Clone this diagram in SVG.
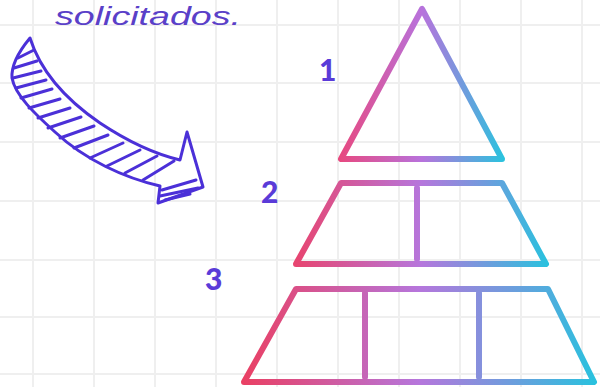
<svg xmlns="http://www.w3.org/2000/svg" width="600" height="387" viewBox="0 0 600 387">
<defs>
<style>
.grid line{stroke:#efefef;stroke-width:2}
.lbl{font-family:"Lato","Noto Sans",sans-serif;font-weight:900;font-size:30px;fill:#5a3bd8}
.hand{font-family:"Liberation Sans",sans-serif;font-style:italic;font-size:26px;fill:#5a40c8}
.pyr{fill:none;stroke-width:6;stroke-linejoin:round;stroke-linecap:round}
.arr{fill:none;stroke:#4b30d8;stroke-width:3;stroke-linecap:round;stroke-linejoin:round}
</style>
<linearGradient id="g1" gradientUnits="userSpaceOnUse" x1="338" y1="0" x2="505" y2="0">
<stop offset="0" stop-color="#e8487e"/><stop offset="0.5" stop-color="#b872dc"/><stop offset="1" stop-color="#28c4de"/>
</linearGradient>
<linearGradient id="g2" gradientUnits="userSpaceOnUse" x1="293" y1="0" x2="549" y2="0">
<stop offset="0" stop-color="#e8446e"/><stop offset="0.5" stop-color="#b676dc"/><stop offset="1" stop-color="#28c2de"/>
</linearGradient>
<linearGradient id="g3" gradientUnits="userSpaceOnUse" x1="241" y1="0" x2="597" y2="0">
<stop offset="0" stop-color="#ea3f62"/><stop offset="0.5" stop-color="#b676dc"/><stop offset="1" stop-color="#28c2de"/>
</linearGradient>
</defs>
<rect width="600" height="387" fill="#ffffff"/>
<g class="grid">
<line x1="33" y1="0" x2="33" y2="387"/><line x1="94" y1="0" x2="94" y2="387"/><line x1="155" y1="0" x2="155" y2="387"/><line x1="216" y1="0" x2="216" y2="387"/><line x1="277" y1="0" x2="277" y2="387"/><line x1="338" y1="0" x2="338" y2="387"/><line x1="399" y1="0" x2="399" y2="387"/><line x1="460" y1="0" x2="460" y2="387"/><line x1="521" y1="0" x2="521" y2="387"/><line x1="582" y1="0" x2="582" y2="387"/>
<line x1="0" y1="25" x2="600" y2="25"/><line x1="0" y1="83" x2="600" y2="83"/><line x1="0" y1="142" x2="600" y2="142"/><line x1="0" y1="201" x2="600" y2="201"/><line x1="0" y1="260" x2="600" y2="260"/><line x1="0" y1="317" x2="600" y2="317"/><line x1="0" y1="374" x2="600" y2="374"/>
</g>
<text class="hand" x="55" y="25" textLength="186" lengthAdjust="spacingAndGlyphs">solicitados.</text>
<g id="arrow">
<path class="arr" d="M30,38 C40,70 62,97 100,123 C130,143 155,154 180,160 L187,132 L203,187 L158,203 L160,186 C125,178 85,160 55,132 C35,114 15,95 12,78 C11,64 20,50 30,38 Z"/>
<g class="arr" stroke-width="2.3">
<path d="M18,58 L34,50"/><path d="M14,68 L37,61"/><path d="M13,78 L41,71"/><path d="M16,88 L46,80"/><path d="M21,98 L52,89"/><path d="M29,108 L60,99"/><path d="M38,118 L70,108"/><path d="M48,128 L81,117"/><path d="M60,138 L94,126"/><path d="M74,148 L108,135"/><path d="M90,158 L123,143"/><path d="M107,166 L140,150"/><path d="M125,173 L157,156"/><path d="M143,180 L174,161"/><path d="M162,190 L196,180"/><path d="M160,196 L198,188"/><path d="M165,200 L190,194"/>
</g>
</g>
<g id="tier1">
<path class="pyr" stroke="url(#g1)" d="M422,9 L341,159 L502,159 Z"/>
<text class="lbl" x="319" y="81">1</text>
</g>
<g id="tier2">
<path class="pyr" stroke="url(#g2)" d="M341,183 L502,183 L546,264 L296,264 Z"/>
<line class="pyr" stroke="url(#g2)" x1="417" y1="188" x2="417" y2="259"/>
<text class="lbl" x="261" y="203">2</text>
</g>
<g id="tier3">
<path class="pyr" stroke="url(#g3)" d="M296,289 L548,289 L594,382 L244,382 Z"/>
<line class="pyr" stroke="url(#g3)" x1="365" y1="293" x2="365" y2="377"/>
<line class="pyr" stroke="url(#g3)" x1="479" y1="293" x2="479" y2="377"/>
<text class="lbl" x="205" y="290">3</text>
</g>
</svg>
